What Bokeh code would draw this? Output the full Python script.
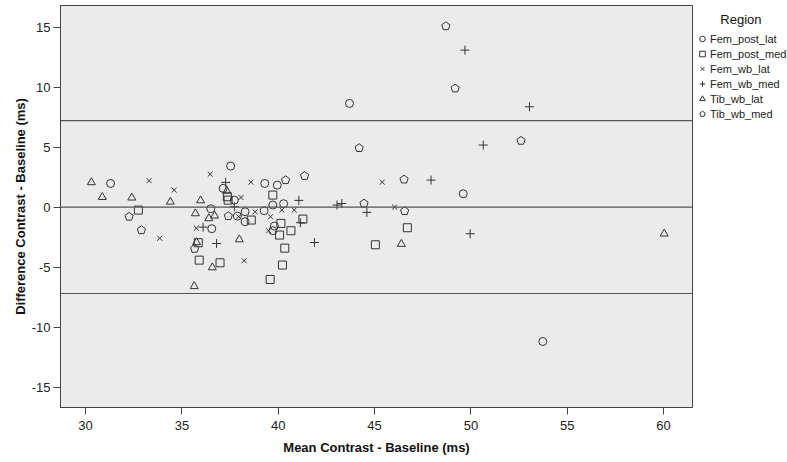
import math
from bokeh.plotting import figure
from bokeh.models import Range1d, Span, Legend, LegendItem, FixedTicker
from bokeh.embed import file_html
from bokeh.resources import INLINE

x_ticks = [30, 35, 40, 45, 50, 55, 60]
y_ticks = [-15, -10, -5, 0, 5, 10, 15]
y_tick_labels = ["-15", "-10", "-5", "0", "5", "10", "15"]

fem_post_lat_x = [31.3, 36.5, 36.55, 37.53, 39.3, 39.95, 37.14, 37.72, 39.72, 40.28, 39.27, 38.28, 38.28, 39.8, 39.72, 37.88, 43.7, 49.6, 53.73]
fem_post_lat_y = [1.97, -0.14, -1.8, 3.42, 1.97, 1.83, 1.56, 0.58, 0.17, 0.28, -0.3, -0.39, -1.22, -1.58, -1.97, -0.75, 8.64, 1.11, -11.2]

fem_post_med_x = [32.74, 35.85, 35.9, 36.98, 37.36, 37.4, 39.72, 38.6, 40.14, 41.28, 40.66, 40.07, 40.34, 40.22, 39.58, 45.04, 46.7]
fem_post_med_y = [-0.25, -2.97, -4.42, -4.64, 0.86, 0.58, 1.0, -1.08, -1.36, -1.0, -1.97, -2.33, -3.42, -4.83, -6.03, -3.14, -1.72]

fem_wb_lat_x = [33.3, 34.6, 36.47, 33.85, 35.75, 38.07, 38.58, 37.95, 38.8, 40.19, 40.83, 39.6, 39.5, 38.23, 45.4, 46.04]
fem_wb_lat_y = [2.2, 1.42, 2.75, -2.6, -1.75, 0.8, 2.08, -0.8, -0.39, -0.25, -0.25, -0.8, -1.97, -4.47, 2.08, 0.0]

fem_wb_med_x = [36.1, 36.8, 37.27, 37.72, 41.07, 41.15, 41.88, 43.05, 43.3, 44.6, 47.93, 49.96, 50.64, 53.04, 49.69]
fem_wb_med_y = [-1.67, -3.03, 2.06, 0.03, 0.56, -1.3, -2.95, 0.17, 0.3, -0.44, 2.25, -2.22, 5.17, 8.36, 13.08]

tib_wb_lat_x = [30.3, 30.87, 32.4, 34.4, 35.97, 35.7, 36.4, 36.7, 37.33, 35.76, 36.58, 35.64, 37.98, 46.39, 60.03]
tib_wb_lat_y = [2.06, 0.83, 0.78, 0.44, 0.55, -0.53, -0.94, -0.72, 1.35, -2.94, -5.03, -6.6, -2.7, -3.08, -2.22]

tib_wb_med_x = [32.26, 32.9, 35.66, 37.41, 40.38, 41.37, 44.2, 44.45, 46.53, 46.56, 48.7, 49.18, 52.6]
tib_wb_med_y = [-0.8, -1.92, -3.47, -0.75, 2.25, 2.6, 4.92, 0.3, 2.3, -0.33, 15.08, 9.89, 5.53]

mean_diff = 0.0
upper_loa = 7.2
lower_loa = -7.2

FONT = "Liberation Sans"
INK = "#333333"

p = figure(frame_width=632, frame_height=402,
           x_range=Range1d(28.7, 61.5), y_range=Range1d(-16.7, 16.8),
           output_backend="svg", toolbar_location=None,
           min_border_left=60, min_border_top=5, min_border_bottom=54, min_border_right=0)
p.background_fill_color = "#EBEBEB"
p.border_fill_color = "white"
p.outline_line_color = "#444444"
p.xgrid.visible = False
p.ygrid.visible = False

for ax in (p.xaxis[0], p.yaxis[0]):
    ax.axis_line_color = "#444444"
    ax.major_tick_line_color = "#444444"
    ax.major_tick_in = 0
    ax.major_tick_out = 7
    ax.minor_tick_line_color = None
    ax.major_label_text_font = FONT
    ax.major_label_text_font_size = "13px"
    ax.major_label_text_color = "#222222"
    ax.axis_label_text_font = FONT
    ax.axis_label_text_font_size = "13px"
    ax.axis_label_text_font_style = "bold"
    ax.axis_label_text_color = "#111111"

p.xaxis.ticker = FixedTicker(ticks=x_ticks)
p.yaxis.ticker = FixedTicker(ticks=y_ticks)
p.yaxis.major_label_overrides = {t: s for t, s in zip(y_ticks, y_tick_labels)}
p.xaxis.axis_label = "Mean Contrast - Baseline (ms)"
p.yaxis.axis_label = "Difference Contrast - Baseline (ms)"
p.xaxis.major_label_standoff = 6
p.yaxis.major_label_standoff = 3
p.xaxis.axis_label_standoff = 7
p.yaxis.axis_label_standoff = 1

for v in (mean_diff, upper_loa, lower_loa):
    p.add_layout(Span(location=v, dimension="width", line_color="#555555", line_width=1.2))

r1 = p.scatter(fem_post_lat_x, fem_post_lat_y, marker="circle", size=8, fill_color=None, line_color=INK, line_width=1)
r2 = p.scatter(fem_post_med_x, fem_post_med_y, marker="square", size=8, fill_color=None, line_color=INK, line_width=1)
r3 = p.scatter(fem_wb_lat_x, fem_wb_lat_y, marker="x", size=7, line_color=INK, line_width=1)
r4 = p.scatter(fem_wb_med_x, fem_wb_med_y, marker="cross", size=9, line_color=INK, line_width=1)
r5 = p.scatter(tib_wb_lat_x, tib_wb_lat_y, marker="triangle", size=8, fill_color=None, line_color=INK, line_width=1)
r6 = p.ngon(tib_wb_med_x, tib_wb_med_y, radius=4.3, radius_units="screen", n=5, angle=0,
            fill_color=None, line_color=INK, line_width=1)

legend = Legend(items=[
    LegendItem(label="Fem_post_lat", renderers=[r1]),
    LegendItem(label="Fem_post_med", renderers=[r2]),
    LegendItem(label="Fem_wb_lat", renderers=[r3]),
    LegendItem(label="Fem_wb_med", renderers=[r4]),
    LegendItem(label="Tib_wb_lat", renderers=[r5]),
    LegendItem(label="Tib_wb_med", renderers=[r6]),
], title="\u00a0" * 7 + "Region", location=(3, 286))
legend.title_text_font = FONT
legend.title_text_font_size = "13px"
legend.title_text_font_style = "normal"
legend.title_text_color = "#111111"
legend.label_text_font = FONT
legend.label_text_font_size = "11px"
legend.label_text_color = "#222222"
legend.glyph_width = 14
legend.glyph_height = 15
legend.label_standoff = 1
legend.label_height = 15
legend.spacing = 0
legend.padding = 1
legend.margin = 0
legend.border_line_color = None
legend.background_fill_alpha = 0
legend.title_standoff = 4
p.add_layout(legend, "right")

open("out.html", "w").write(file_html(p, INLINE))
